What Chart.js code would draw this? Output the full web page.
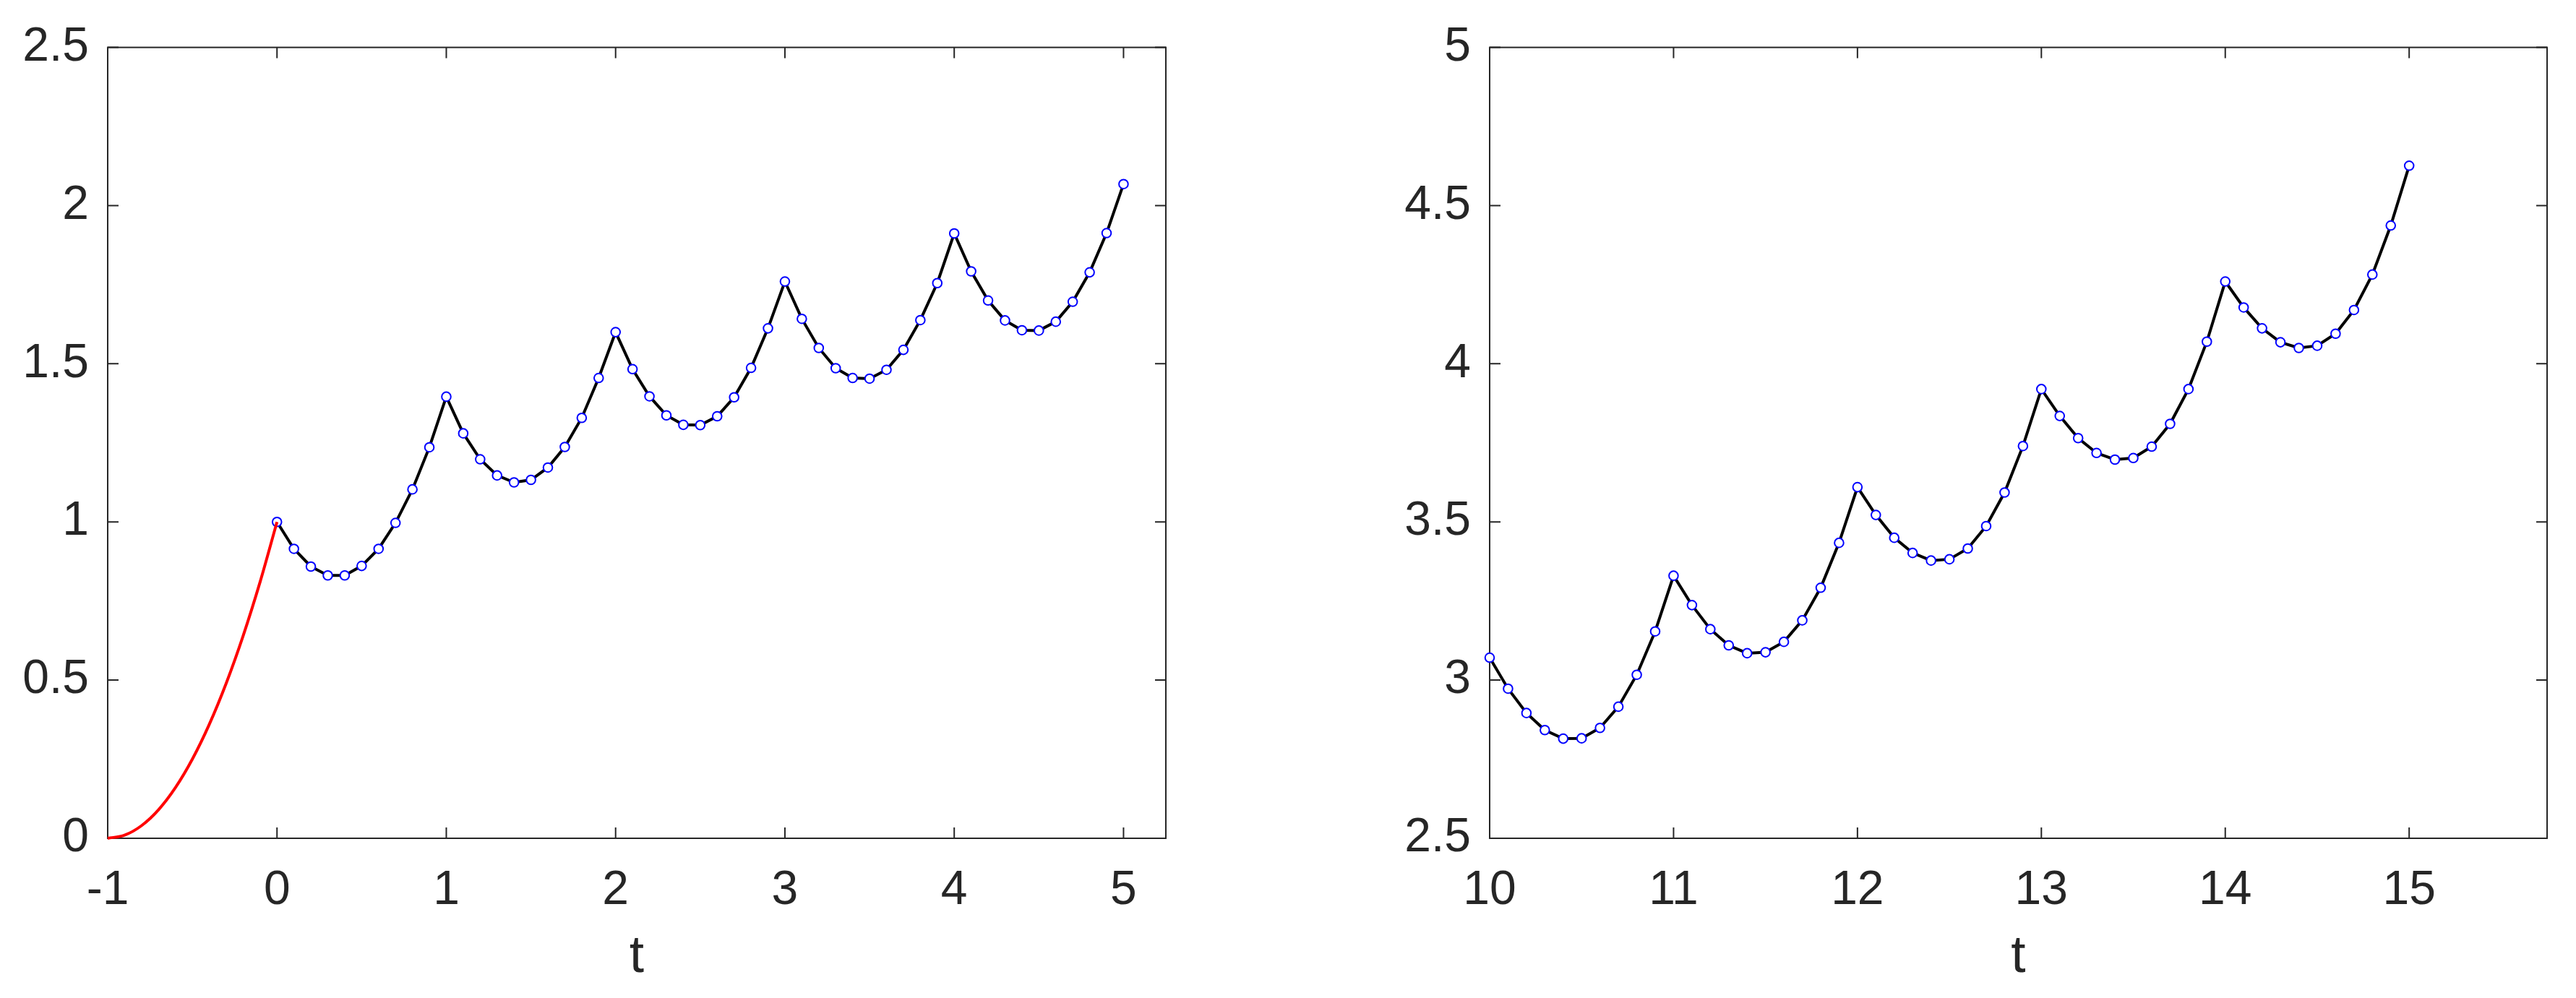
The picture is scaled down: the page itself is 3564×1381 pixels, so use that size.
<!DOCTYPE html>
<html>
<head>
<meta charset="utf-8">
<script src="https://cdn.jsdelivr.net/npm/chart.js@4.4.1/dist/chart.umd.min.js"></script>
<style>
  body { margin: 0; background: #ffffff; }
  .panel { position: absolute; top: 0; width: 1782px; height: 1381px; }
</style>
</head>
<body>
<div class="panel" style="left:0"><canvas id="leftChart" width="1782" height="1381"></canvas></div>
<div class="panel" style="left:1782px"><canvas id="rightChart" width="1782" height="1381"></canvas></div>
<script>
// history function on [-1, 0]
const tHistory = [-1, -0.9, -0.8, -0.7, -0.6, -0.5, -0.4, -0.3, -0.2, -0.1, 0];
const yHistory = [0, 0.01, 0.04, 0.09, 0.16, 0.25, 0.36, 0.49, 0.64, 0.81, 1];

// solution samples, t = 0 .. 5
const tLeft = [0, 0.1, 0.2, 0.3, 0.4, 0.5, 0.6, 0.7, 0.8, 0.9,
  1, 1.1, 1.2, 1.3, 1.4, 1.5, 1.6, 1.7, 1.8, 1.9,
  2, 2.1, 2.2, 2.3, 2.4, 2.5, 2.6, 2.7, 2.8, 2.9,
  3, 3.1, 3.2, 3.3, 3.4, 3.5, 3.6, 3.7, 3.8, 3.9,
  4, 4.1, 4.2, 4.3, 4.4, 4.5, 4.6, 4.7, 4.8, 4.9, 5];
const yLeft = [1, 0.915, 0.859, 0.831, 0.831, 0.861, 0.915, 0.997, 1.103, 1.236,
  1.396, 1.280, 1.198, 1.147, 1.125, 1.133, 1.172, 1.237, 1.329, 1.455,
  1.600, 1.483, 1.397, 1.337, 1.307, 1.306, 1.334, 1.394, 1.487, 1.612,
  1.760, 1.642, 1.550, 1.486, 1.455, 1.453, 1.481, 1.544, 1.638, 1.755,
  1.912, 1.792, 1.700, 1.637, 1.606, 1.605, 1.633, 1.696, 1.789, 1.913, 2.068];

// solution samples, t = 10 .. 15
const tRight = [10, 10.1, 10.2, 10.3, 10.4, 10.5, 10.6, 10.7, 10.8, 10.9,
  11, 11.1, 11.2, 11.3, 11.4, 11.5, 11.6, 11.7, 11.8, 11.9,
  12, 12.1, 12.2, 12.3, 12.4, 12.5, 12.6, 12.7, 12.8, 12.9,
  13, 13.1, 13.2, 13.3, 13.4, 13.5, 13.6, 13.7, 13.8, 13.9,
  14, 14.1, 14.2, 14.3, 14.4, 14.5, 14.6, 14.7, 14.8, 14.9, 15];
const yRight = [3.071, 2.973, 2.896, 2.842, 2.815, 2.816, 2.849, 2.916, 3.017, 3.154,
  3.330, 3.237, 3.161, 3.110, 3.085, 3.088, 3.121, 3.189, 3.292, 3.434,
  3.610, 3.522, 3.450, 3.402, 3.378, 3.382, 3.416, 3.487, 3.593, 3.740,
  3.920, 3.835, 3.765, 3.718, 3.697, 3.702, 3.738, 3.810, 3.920, 4.070,
  4.260, 4.178, 4.112, 4.068, 4.050, 4.057, 4.095, 4.170, 4.282, 4.437, 4.626];

// tick values
const xTicksLeft = [-1, 0, 1, 2, 3, 4, 5];
const yTicksLeft = [0, 0.5, 1, 1.5, 2, 2.5];
const xTicksRight = [10, 11, 12, 13, 14, 15];
const yTicksRight = [2.5, 3, 3.5, 4, 4.5, 5];

const axisColor = '#262626';
const fontFamily = "'Liberation Sans', Arial, Helvetica, sans-serif";

function toPoints(xs, ys) {
  return xs.map((x, i) => ({ x: x, y: ys[i] }));
}

// box around the axes with inward ticks on all four sides (matlab style)
const boxTicks = {
  id: 'boxTicks',
  beforeDatasetsDraw(chart) {
    const { ctx, chartArea: a, scales: { x, y } } = chart;
    const len = 15;
    ctx.save();
    ctx.strokeStyle = axisColor;
    ctx.lineWidth = 2;
    ctx.strokeRect(a.left, a.top, a.right - a.left, a.bottom - a.top);
    ctx.beginPath();
    x.ticks.forEach(t => {
      const px = x.getPixelForValue(t.value);
      ctx.moveTo(px, a.bottom); ctx.lineTo(px, a.bottom - len);
      ctx.moveTo(px, a.top); ctx.lineTo(px, a.top + len);
    });
    y.ticks.forEach(t => {
      const py = y.getPixelForValue(t.value);
      ctx.moveTo(a.left, py); ctx.lineTo(a.left + len, py);
      ctx.moveTo(a.right, py); ctx.lineTo(a.right - len, py);
    });
    ctx.stroke();
    ctx.restore();
  }
};

function solutionDataset(xs, ys) {
  return {
    data: toPoints(xs, ys),
    borderColor: '#000000',
    borderWidth: 4,
    tension: 0,
    pointRadius: 6.3,
    pointBorderWidth: 2,
    pointBorderColor: '#0000ff',
    pointBackgroundColor: '#ffffff',
    clip: false
  };
}

function makeChart(id, datasets, xr, yr, xTicks, yTicks, axisWidth, padRight) {
  const ctx = document.getElementById(id).getContext('2d');
  return new Chart(ctx, {
    type: 'line',
    data: { datasets: datasets },
    options: {
      responsive: false,
      animation: false,
      devicePixelRatio: 1,
      layout: { padding: { top: 51, right: padRight, left: 0, bottom: 0 } },
      plugins: { legend: { display: false }, tooltip: { enabled: false } },
      scales: {
        x: {
          type: 'linear',
          min: xr[0],
          max: xr[1],
          afterBuildTicks: s => { s.ticks = xTicks.map(v => ({ value: v })); },
          afterFit: s => { s.height = 221; },
          grid: { display: false, drawTicks: false },
          border: { display: false },
          ticks: {
            color: axisColor,
            font: { family: fontFamily, size: 66 },
            padding: 33,
            maxRotation: 0,
            autoSkip: false,
            callback: v => String(v)
          },
          title: {
            display: true,
            text: 't',
            color: axisColor,
            font: { family: fontFamily, size: 73 },
            padding: { top: 0, bottom: 12 }
          }
        },
        y: {
          type: 'linear',
          min: yr[0],
          max: yr[1],
          afterBuildTicks: s => { s.ticks = yTicks.map(v => ({ value: v })); },
          afterFit: s => { s.width = axisWidth; },
          grid: { display: false, drawTicks: false },
          border: { display: false },
          ticks: {
            color: axisColor,
            font: { family: fontFamily, size: 66 },
            padding: 26,
            autoSkip: false,
            callback: v => String(v)
          }
        }
      }
    },
    plugins: [boxTicks]
  });
}

makeChart('leftChart', [
  {
    data: toPoints(tHistory, yHistory),
    borderColor: '#ff0000',
    borderWidth: 4,
    cubicInterpolationMode: 'monotone',
    pointRadius: 0,
    clip: false
  },
  solutionDataset(tLeft, yLeft)
], [-1, 5.25], [0, 2.5], xTicksLeft, yTicksLeft, 149, 169);

makeChart('rightChart', [
  solutionDataset(tRight, yRight)
], [10, 15.75], [2.5, 5], xTicksRight, yTicksRight, 279, 40);
</script>
</body>
</html>
